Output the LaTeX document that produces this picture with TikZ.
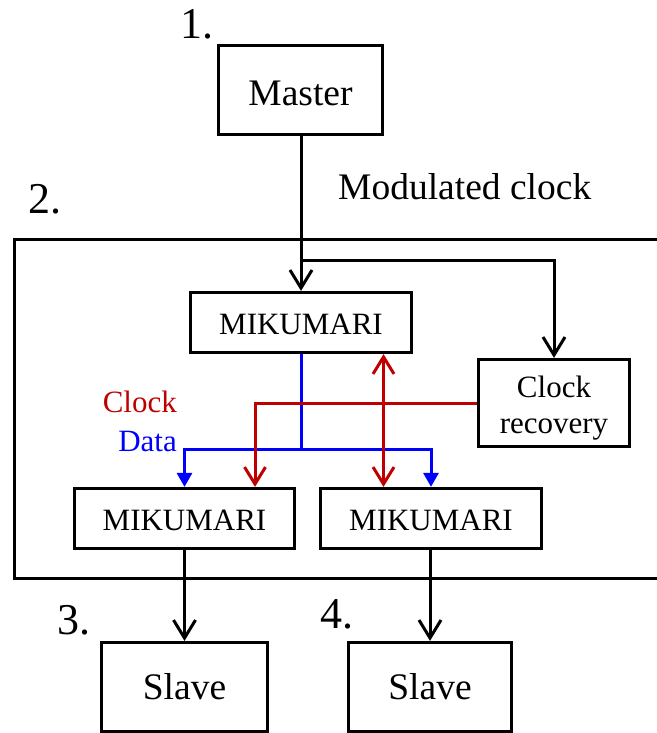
\documentclass[tikz,border=0pt]{standalone}
\usepackage{fontspec}
\setmainfont{Liberation Serif}
\usetikzlibrary{arrows.meta}
\definecolor{clkred}{RGB}{192,0,0}
\definecolor{datblue}{RGB}{0,0,255}
\tikzset{
  blk/.style={draw, line width=3.2pt, inner sep=0pt, align=center},
  lbl/.style={font=\fontsize{31}{36}\selectfont},
  big/.style={font=\fontsize{37.5}{45}\selectfont},
  num/.style={font=\fontsize{44}{50}\selectfont, inner sep=0pt, anchor=base},
  conn/.style={line width=3pt},
  sig/.style={conn, -{Straight Barb[length=18pt, width=22pt, line width=3pt]}},
  clkline/.style={conn, clkred},
  clksig/.style={clkline, -{Straight Barb[length=17pt, width=21pt, line width=3pt]}},
  clkboth/.style={clkline, {Straight Barb[length=17pt, width=21pt, line width=3pt]}-{Straight Barb[length=17pt, width=21pt, line width=3pt]}},
  datline/.style={conn, datblue},
  datsig/.style={datline, -{Triangle[length=14pt, width=15pt]}},
}
\begin{document}
\begin{tikzpicture}[x=1pt, y=-1pt]
\useasboundingbox (0,0) rectangle (656,733);

% enclosing frame of the MIKUMARI network (open on the right)
\draw[line width=3pt] (660,239.5) -- (14.5,239.5) -- (14.5,578) -- (660,578);

% boxes (text height/depth set so the baselines sit a little below centre)
\node[blk, big, text height=32pt, text depth=0pt, minimum width=164pt, minimum height=89pt] (master) at (300.5,90) {Master};
\node[blk, lbl, text height=24pt, text depth=0pt, minimum width=221pt, minimum height=60pt] (mik) at (301,322.5) {MIKUMARI};
\node[blk, minimum width=151pt, minimum height=87pt] (clk) at (554,403) {};
% two-line caption of the clock recovery box (base = last line)
\node[lbl, align=center, inner sep=0pt, anchor=base] (clktxt) at (554,433) {Clock\\recovery};
\node[blk, lbl, text height=24pt, text depth=0pt, minimum width=220pt, minimum height=60pt] (ml) at (184.5,518.5) {MIKUMARI};
\node[blk, lbl, text height=24pt, text depth=0pt, minimum width=221pt, minimum height=60pt] (mr) at (431,518.5) {MIKUMARI};
\node[blk, big, minimum width=166pt, minimum height=89pt] (sl) at (184.5,687) {Slave};
\node[blk, big, minimum width=163pt, minimum height=89pt] (sr) at (430,687) {Slave};

% numbers and labels
\node[num] (n1) at (197,39) {1.};
\node[num] (n2) at (45,213) {2.};
\node[num] (n3) at (74,634) {3.};
\node[num] (n4) at (337,628) {4.};
\node[big, inner sep=0pt, anchor=base west] (mod) at (338,199) {Modulated clock};
\node[lbl, clkred, inner sep=0pt, anchor=base east] (lclk) at (177,412) {Clock};
\node[lbl, datblue, inner sep=0pt, anchor=base east] (ldat) at (177,451) {Data};

% modulated clock from the master
\coordinate (br) at (301,260);
\draw[sig] (master.south -| mik.north) -- (mik.north);
\draw[sig] (br) -| (clk.north);

% data distribution
\coordinate (dj) at (301,449);
\draw[datline] (mik.south) -- (dj);
\draw[datsig] (dj) -| (ml.north);
\draw[datsig] (dj) -| (mr.north);

% recovered clock
\coordinate (ck) at (255,403);
\draw[clksig] (clk.west) -- (ck) -- (ck |- ml.north);
\coordinate (bx) at (383.5,0);
\draw[clkboth] (bx |- mik.south) -- (bx |- mr.north);

% outputs to the slaves
\draw[sig] (ml.south) -- (sl.north);
\draw[sig] (mr.south -| sr.north) -- (sr.north);
\end{tikzpicture}
\end{document}
